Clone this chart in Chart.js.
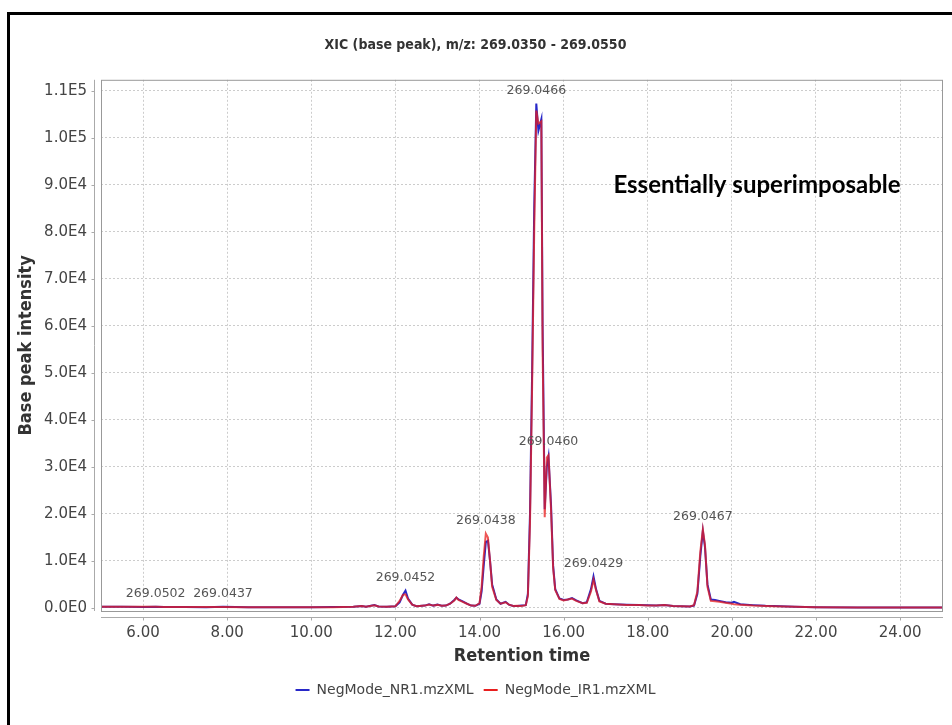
<!DOCTYPE html>
<html>
<head>
<meta charset="utf-8">
<title>XIC base peak</title>
<script src="https://cdn.jsdelivr.net/npm/chart.js@4.4.1/dist/chart.umd.min.js"></script>
<style>
  html, body { margin: 0; padding: 0; background: #fff; }
  #wrap { position: relative; width: 952px; height: 725px; overflow: hidden; }
  #frame {
    position: absolute; left: 7px; top: 12px; right: -10px; bottom: -10px;
    border-top: 3px solid #000; border-left: 3px solid #000;
  }
  #xic { position: absolute; left: 0; top: 0; }
</style>
</head>
<body>
<div id="wrap">
  <div id="frame"></div>
  <canvas id="xic" width="952" height="725"></canvas>
</div>
<script>
// Retention time (min) and base peak intensity for the two runs
const rt = [
  5.0, 5.5, 6.0, 6.3, 6.5, 7.0, 7.5, 7.9, 8.5, 9.0, 9.5, 10.0, 10.5, 11.0, 11.2, 11.3,
  11.5, 11.6, 11.8, 12.0, 12.1, 12.18, 12.24, 12.3, 12.4, 12.5, 12.7, 12.8, 12.9, 13.0,
  13.1, 13.2, 13.3, 13.4, 13.45, 13.5, 13.6, 13.7, 13.8, 13.9, 14.0, 14.05, 14.1, 14.15,
  14.2, 14.25, 14.3, 14.4, 14.5, 14.62, 14.7, 14.8, 14.9, 15.0, 15.1, 15.15, 15.2, 15.25,
  15.3, 15.35, 15.4, 15.47, 15.5, 15.55, 15.6, 15.64, 15.7, 15.75, 15.8, 15.9, 16.0, 16.1,
  16.2, 16.3, 16.45, 16.55, 16.65, 16.71, 16.77, 16.85, 17.0, 17.2, 17.5, 17.8, 18.0, 18.2,
  18.4, 18.6, 18.8, 19.0, 19.1, 19.18, 19.25, 19.31, 19.36, 19.42, 19.5, 19.6, 19.7, 19.85,
  20.0, 20.05, 20.2, 20.5, 20.8, 21.0, 21.5, 22.0, 23.0, 24.0, 25.0
];
const nr1 = [
  250, 230, 220, 260, 200, 180, 170, 230, 150, 140, 130, 150, 180, 250, 400, 250,
  600, 300, 250, 350, 1200, 2800, 3700, 2000, 700, 350, 500, 800, 500, 700,
  450, 500, 900, 1700, 2200, 1800, 1400, 900, 500, 450, 900, 3500, 9000, 14000,
  14300, 10000, 5000, 1800, 900, 1300, 700, 400, 400, 500, 600, 3000, 20000, 50000,
  85000, 107300, 101500, 104000, 60000, 21000, 30000, 32200, 22000, 9000, 4000, 2000, 1700, 1800,
  2100, 1600, 1000, 1200, 4000, 6700, 4000, 1500, 900, 800, 700, 600, 550, 500,
  650, 400, 350, 300, 500, 3000, 11000, 16400, 13000, 5000, 1800, 1700, 1500, 1200,
  1100, 1300, 800, 600, 450, 400, 250, 150, 120, 100, 100
];
const ir1 = [
  250, 240, 230, 250, 210, 200, 180, 220, 160, 150, 140, 140, 170, 260, 420, 260,
  550, 300, 250, 350, 1500, 2800, 2900, 1800, 700, 350, 500, 750, 500, 650,
  450, 500, 900, 1600, 2200, 1700, 1300, 900, 500, 450, 1000, 4500, 11000, 15800,
  15000, 10000, 4500, 1700, 900, 1200, 700, 400, 450, 400, 600, 2500, 18000, 47000,
  80000, 105800, 103000, 103500, 55000, 19300, 32000, 32500, 21000, 8500, 3800, 1900, 1600, 1800,
  2000, 1500, 1000, 1100, 3500, 6000, 3800, 1400, 900, 800, 650, 600, 500, 500,
  600, 400, 350, 300, 600, 3500, 12000, 16700, 13500, 4500, 1500, 1400, 1300, 1100,
  900, 800, 700, 500, 400, 350, 250, 150, 120, 100, 100
];

const xTicks = [6, 8, 10, 12, 14, 16, 18, 20, 22, 24];
const yTicks = [0, 10000, 20000, 30000, 40000, 50000, 60000, 70000, 80000, 90000, 100000, 110000];

// Peak annotations: m/z of the base peak at each apex
const peakRt = [6.3, 7.9, 12.24, 14.15, 15.35, 15.64, 16.71, 19.31];
const peakMz = ['269.0502', '269.0437', '269.0452', '269.0438', '269.0466', '269.0460', '269.0429', '269.0467'];

const seriesNames = ['NegMode_NR1.mzXML', 'NegMode_IR1.mzXML'];

const FONT = '"DejaVu Sans", sans-serif';
const FONT_NARROW = '"DejaVu Sans Condensed", "DejaVu Sans", sans-serif';
const BLUE = 'rgb(40,40,200)';
const RED = 'rgba(232,30,30,0.75)';

function toPoints(ys) {
  return rt.map((x, i) => ({ x, y: ys[i] }));
}

function sciLabel(v) {
  return v.toExponential(1).toUpperCase().replace('+', '');
}

// Plot frame, offset axis lines, peak labels and the note
const decorations = {
  id: 'decorations',
  afterDraw(chart) {
    const { ctx, chartArea: a, scales: { x, y } } = chart;
    ctx.save();

    ctx.strokeStyle = '#999';
    ctx.lineWidth = 1;
    ctx.strokeRect(a.left + 0.5, a.top + 0.5, a.right - a.left - 1, a.bottom - a.top);

    // y axis line sits a few px left of the plot
    ctx.strokeStyle = '#aaa';
    const ax = a.left - 6.5;
    ctx.beginPath();
    ctx.moveTo(ax, a.top);
    ctx.lineTo(ax, a.bottom);
    yTicks.forEach(v => {
      const py = Math.round(y.getPixelForValue(v)) + 0.5;
      ctx.moveTo(ax, py);
      ctx.lineTo(ax - 3, py);
    });
    // x axis line below the plot
    const ay = a.bottom + 6.5;
    ctx.moveTo(a.left, ay);
    ctx.lineTo(a.right, ay);
    xTicks.forEach(v => {
      const px = Math.round(x.getPixelForValue(v)) + 0.5;
      ctx.moveTo(px, ay);
      ctx.lineTo(px, ay + 3);
    });
    ctx.stroke();

    // m/z labels above the peaks
    ctx.font = '12.5px ' + FONT;
    ctx.fillStyle = '#555';
    ctx.textAlign = 'center';
    ctx.textBaseline = 'middle';
    peakRt.forEach((t, k) => {
      const i = rt.indexOf(t);
      const top = Math.max(nr1[i], ir1[i]);
      ctx.fillText(peakMz[k], x.getPixelForValue(t), y.getPixelForValue(top) - 13);
    });

    ctx.font = 'bold 24px Lato, "Open Sans", sans-serif';
    ctx.fillStyle = '#000';
    ctx.fillText('Essentially superimposable', a.left + 656, a.top + 105);
    ctx.restore();
  }
};

new Chart(document.getElementById('xic'), {
  type: 'line',
  data: {
    datasets: [
      {
        label: seriesNames[0],
        data: toPoints(nr1),
        borderColor: BLUE,
        backgroundColor: BLUE,
        borderWidth: 2,
        pointRadius: 0,
        order: 1,
      },
      {
        label: seriesNames[1],
        data: toPoints(ir1),
        borderColor: RED,
        backgroundColor: 'rgb(232,30,30)',
        borderWidth: 2,
        pointRadius: 0,
        order: 0,
      },
    ],
  },
  options: {
    responsive: false,
    animation: false,
    events: [],
    layout: { padding: { left: 8, right: 9, top: 0, bottom: 18 } },
    plugins: {
      title: {
        display: true,
        text: 'XIC (base peak), m/z: 269.0350 - 269.0550',
        color: '#333',
        font: { family: FONT_NARROW, size: 14, weight: 'bold' },
        padding: { top: 37, bottom: 26 },
      },
      legend: {
        position: 'bottom',
        labels: {
          color: '#444',
          font: { family: FONT, size: 14 },
          boxWidth: 14,
          boxHeight: 2,
          padding: 10,
          sort: (a, b) => a.datasetIndex - b.datasetIndex,
          generateLabels: chart => chart.data.datasets.map((d, i) => ({
            text: d.label,
            fillStyle: d.backgroundColor,
            strokeStyle: d.backgroundColor,
            lineWidth: 0,
            fontColor: '#444',
            datasetIndex: i,
          })),
        },
      },
      tooltip: { enabled: false },
    },
    scales: {
      x: {
        type: 'linear',
        min: 5,
        max: 25.02,
        afterBuildTicks: s => { s.ticks = xTicks.map(value => ({ value })); },
        afterFit: s => { s.height = 62; },
        grid: { color: '#ccc', drawTicks: false },
        border: { display: false, dash: [2, 2] },
        ticks: {
          color: '#444',
          padding: 13,
          maxRotation: 0,
          font: { family: FONT, size: 15 },
          callback: v => v.toFixed(2),
        },
        title: {
          display: true,
          text: 'Retention time',
          color: '#333',
          font: { family: FONT_NARROW, size: 18, weight: 'bold' },
          padding: { top: 0, bottom: 6 },
        },
      },
      y: {
        type: 'linear',
        min: -650,
        max: 112350,
        afterBuildTicks: s => { s.ticks = yTicks.map(value => ({ value })); },
        afterFit: s => { s.width = 93; },
        grid: { color: '#ccc', drawTicks: false },
        border: { display: false, dash: [2, 2] },
        ticks: {
          color: '#444',
          padding: 14,
          font: { family: FONT, size: 15 },
          callback: v => sciLabel(v),
        },
        title: {
          display: true,
          text: 'Base peak intensity',
          color: '#333',
          font: { family: FONT_NARROW, size: 18, weight: 'bold' },
          padding: { top: 8, bottom: 0 },
        },
      },
    },
  },
  plugins: [decorations],
});
</script>
</body>
</html>
